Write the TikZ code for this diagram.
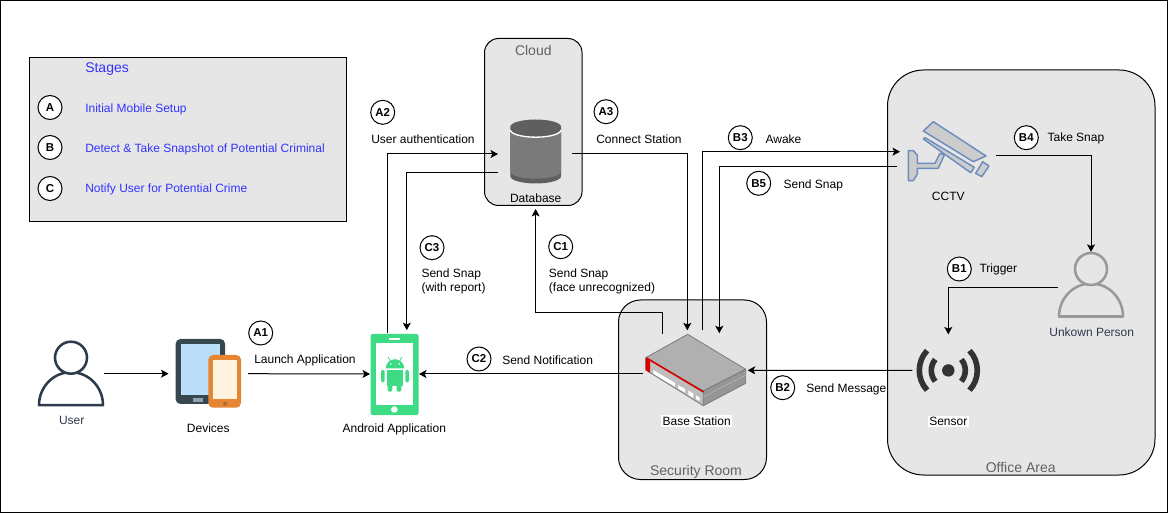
\documentclass[tikz,border=0pt]{standalone}
\usepackage{fontspec}
\setmainfont{Liberation Sans}
\usetikzlibrary{arrows.meta}
\def\pxu{0.75pt}
\definecolor{groupfill}{HTML}{E6E6E6}
\definecolor{stageblue}{HTML}{3333FF}
\definecolor{slate}{HTML}{2C3A4B}
\definecolor{droid}{HTML}{3DDC84}
\definecolor{camblue}{HTML}{6C8EBF}
\tikzset{
        iconbox/.style 2 args = {inner sep=0pt, outer sep=0pt,
            minimum width=#1*\pxu,
            minimum height=#2*\pxu},
        group/.style = {draw, fill=groupfill, line width=0.75pt},
        arrow/.style = {draw, line width=0.75pt, -{Stealth[length=5.6pt,width=6pt,inset=1.3pt]}},
        badge/.style = {draw, circle, fill=white, line width=0.75pt, inner sep=0pt,
            minimum size=24*\pxu, font=\fontsize{8.6}{10}\selectfont\bfseries},
        note/.style = {anchor=west, inner sep=0pt, align=left, yshift=-0.9pt, font=\fontsize{9}{10.6}\selectfont},
        caption/.style = {inner sep=0pt, yshift=-0.9pt, font=\fontsize{9}{10.6}\selectfont},
        title/.style = {inner sep=0pt, yshift=-1.2pt, text=black!62, font=\fontsize{10.5}{12}\selectfont},
    }
% person icon: x, y of the head, colour, fill of the head
\newcommand{\personicon}[4]{
    \draw [#3, line width=1.9pt, line join=round] (#1-32,#2+47.5) arc [start angle=180, end angle=360, x radius=32, y radius=33] -- cycle;
    \draw [#3, fill=#4, line width=1.9pt] (#1,#2) circle [radius=16];
}
\begin{document}
\begin{tikzpicture}[x=0.75pt,y=0.75pt,yscale=-1,xscale=1]
\useasboundingbox (0,0) rectangle (1168,513);
\draw [line width=0.75pt] (0.5,0.5) rectangle (1167,512.5);

%Group boxes
\node [group, iconbox={317}{164}, rounded corners=0pt] (stages) at (188,139.5) {};
\node [group, iconbox={97.5}{167}, rounded corners=10.5pt] (cloud) at (533.25,122) {};
\node [group, iconbox={148}{179.5}, rounded corners=16.5pt] (room) at (692.5,389.75) {};
\node [group, iconbox={267.5}{405}, rounded corners=27pt] (office) at (1021.25,272.5) {};
\node [title] (cloudname) at (533.3,49) {Cloud};
\node [title] (roomname) at (696,470) {Security Room};
\node [title] (officename) at (1020.7,466) {Office Area};

%Stages
\node [note, text=stageblue, font=\fontsize{10.5}{12}\selectfont] (stagetitle) at (85,68) {Stages};
\node [badge] (stagea) at (50,107.5) {A};
\node [badge] (stageb) at (50,147.5) {B};
\node [badge] (stagec) at (50,188.5) {C};
\node [note, text=stageblue] (stageatext) at (85,108) {Initial Mobile Setup};
\node [note, text=stageblue] (stagebtext) at (85,148) {Detect \& Take Snapshot of Potential Criminal};
\node [note, text=stageblue] (stagectext) at (85,188.5) {Notify User for Potential Crime};

%User icon
\personicon{71}{357.7}{slate}{white}
\node [iconbox={66}{66}] (user) at (71,373.7) {};
\node [caption, text=slate] (username) at (71.7,419.3) {User};

%Devices icon
\node [iconbox={79.5}{70}] (devices) at (208.25,373.7) {};
\fill [fill={rgb,255:red,55;green,71;blue,79}, rounded corners=3.5pt] (175.7,339) rectangle (225,404);
\fill [fill={rgb,255:red,187;green,222;blue,251}] (180.7,344) rectangle (220,395);
\fill [fill={rgb,255:red,144;green,164;blue,174}] (193.3,398.3) rectangle (203.3,401.7);
\fill [fill={rgb,255:red,229;green,134;blue,53}, rounded corners=3.5pt] (208.3,355) rectangle (241,407.7);
\fill [fill={rgb,255:red,255;green,243;blue,224}] (213.3,360) rectangle (236.7,399);
\fill [fill={rgb,255:red,178;green,106;blue,42}] (225,403.7) circle [radius=2];
\node [caption] (devicesname) at (208.3,427) {Devices};

%Android icon
\node [iconbox={49}{81}] (android) at (394.5,374) {};
\fill [droid, rounded corners=1.5pt] (370.7,334) rectangle (418.5,415);
\fill [white] (375.7,342.7) rectangle (413.3,405);
\fill [white] (389,337.7) rectangle (400,340);
\fill [white] (394.3,409.5) circle [radius=3.3];
\fill [droid] (385.7,368.5) arc [start angle=180, end angle=360, radius=9.3] -- cycle;
\fill [droid] (386.7,370) rectangle (403.3,386);
\fill [droid, rounded corners=1pt] (387.7,384) rectangle (392.3,391.7);
\fill [droid, rounded corners=1pt] (396.7,384) rectangle (401.3,391.7);
\fill [droid, rounded corners=1pt] (381,370) rectangle (384.7,382.3);
\fill [droid, rounded corners=1pt] (405.3,370) rectangle (408.9,382.3);
\draw [droid, line width=0.6pt] (390,360.5) -- (388,357) (400,360.5) -- (402,357);
\fill [white] (390.8,364) circle [radius=0.9] (399.2,364) circle [radius=0.9];
\node [caption] (androidname) at (394.3,427.7) {Android Application};

%Database icon
\node [iconbox={73.7}{70}] (database) at (534.85,154) {};
\fill [fill={rgb,255:red,95;green,95;blue,95}] (510.4,126.7) arc [start angle=180, end angle=540, x radius=25.3, y radius=7.2];
\fill [fill={rgb,255:red,95;green,95;blue,95}] (510.4,126.7) -- (510.4,176.3) arc [start angle=180, end angle=0, x radius=25.3, y radius=7.2] -- (561,126.7) -- cycle;
\fill [fill={rgb,255:red,122;green,122;blue,122}] (510.4,130) arc [start angle=180, end angle=0, x radius=25.3, y radius=7.2] -- (561,171.5) arc [start angle=0, end angle=180, x radius=25.3, y radius=7.2] -- cycle;
\draw [white, line width=1pt] (510.4,130) arc [start angle=180, end angle=0, x radius=25.3, y radius=7.2];
\node [caption] (databasename) at (535.7,196.7) {Database};

%Base station icon
\node [iconbox={104.4}{80}] (base) at (695.5,370.3) {};
\draw [fill={rgb,255:red,176;green,176;blue,176}, draw={rgb,255:red,122;green,122;blue,122}, line width=0.6pt, line join=round] (645.7,357.7) -- (687.7,334.3) -- (745.7,369.3) -- (703.3,391) -- cycle;
\draw [fill={rgb,255:red,150;green,150;blue,150}, draw={rgb,255:red,122;green,122;blue,122}, line width=0.6pt, line join=round] (703.3,391) -- (745.7,369.3) -- (745.7,383.3) -- (703.3,405.7) -- cycle;
\draw [fill={rgb,255:red,190;green,190;blue,190}, draw={rgb,255:red,122;green,122;blue,122}, line width=0.6pt, line join=round] (645.7,357.7) -- (703.3,391) -- (703.3,405.7) -- (645.7,370) -- cycle;
\draw [red!85!black, line width=1.2pt] (646.5,358) -- (703.5,392);
\fill [red!85!black] (645.7,357.7) -- (650,360.2) -- (650,372.7) -- (645.7,370) -- cycle;
\fill [white] (653.3,370) -- (675,383) -- (675,386.7) -- (653.3,373.7) -- cycle;
\fill [white] (678,385) -- (685,389) -- (685,392.5) -- (678,388.5) -- cycle;
\fill [white] (688.3,390.5) -- (693.3,393.5) -- (693.3,398) -- (688.3,395) -- cycle;
\fill [white] (696,395.5) -- (699.5,397.5) -- (699.5,401) -- (696,399) -- cycle;
\draw [white!75!black, line width=0.3pt] (703.3,397) -- (745.7,375);
\node [caption, fill=white, inner sep=1pt] (basename) at (696.7,420) {Base Station};

%Sensor icon
\node [iconbox={72}{72}] (sensor) at (948.3,370.4) {};
\fill [black!80] (948.3,370.4) circle [radius=6.2];
\foreach \mid in {0,180}{
    \draw [black!80, line width=4.2pt] ([shift={(\mid-40:17)}]948.3,370.4) arc [start angle=\mid-40, end angle=\mid+40, radius=17];
    \draw [black!80, line width=4.2pt] ([shift={(\mid-43:29)}]948.3,370.4) arc [start angle=\mid-43, end angle=\mid+43, radius=29];
}
\node [caption, fill=white, inner sep=1pt] (sensorname) at (948.3,420) {Sensor};

%Unknown person icon
\personicon{1091}{269}{black!40}{groupfill}
\node [iconbox={65.4}{71}] (unknown) at (1091,287.3) {};
\node [caption, text=slate] (unknownname) at (1091.7,330.7) {Unkown Person};

%CCTV icon
\node [iconbox={99.3}{60}] (cctv) at (946.3,155.3) {};
\begin{scope}[draw=camblue, line width=1.1pt, line join=round]
\draw [fill={rgb,255:red,204;green,204;blue,204}] (923.3,131) -- (933.3,121.7) -- (986,156) -- (973.3,161.7) -- cycle;
\draw [fill={rgb,255:red,204;green,204;blue,204}] (923.3,139) -- (925,137.7) -- (974.3,167.3) -- (970.7,172.7) -- cycle;
\draw [fill={rgb,255:red,204;green,204;blue,204}] (982.7,161.7) -- (989,166) -- (981.7,176.7) -- (975.7,173.3) -- cycle;
\draw [fill={rgb,255:red,204;green,204;blue,204}] (908.3,150.7) -- (913.3,150.7) -- (917.3,155) -- (917.3,163.3) -- (935,163.3) -- (940,153.3) -- (944.3,155) -- (938.3,168.3) -- (917.3,168.3) -- (917.3,174) -- (913.3,180.7) -- (908.3,180.7) -- cycle;
\end{scope}
\node [caption] (cctvname) at (948.3,194.7) {CCTV};

%Straight Lines
\draw [arrow] (user.east) -- (devices.west);
\draw [arrow] (devices.east) -- (android.west);
\draw [arrow] ([xshift=-4.9pt]android.north) |- (database.west);
\draw [arrow] ([yshift=14pt]database.west) -| ([shift={(9.2pt,-2.5pt)}]android.north);
\draw [arrow] (database.east) -| ([xshift=-6.15pt]base.north);
\draw [arrow] ([shift={(-24.6pt,2.8pt)}]base.north) -- ++(0,-21.3) -| ([shift={(1.8pt,2.6pt)}]cloud.south);
\draw [arrow] ([xshift=5.4pt]base.north) |- ([shift={(2.5pt,-2.7pt)}]cctv.west);
\draw [arrow] ([yshift=8.5pt]cctv.west) -| ([shift={(17.85pt,2.2pt)}]base.north);
\draw [arrow] (cctv.east) -| (unknown.north);
\draw [arrow] (unknown.west) -| (sensor.north);
\draw [arrow] (sensor.west) -- (base.east);
\draw [arrow] (android.east -| base.west) -- (android.east);

% Badges
\node [badge] (a1) at (260.7,333) {A1};
\node [badge] (a2) at (382.7,112.3) {A2};
\node [badge] (a3) at (606,111.7) {A3};
\node [badge] (c1) at (560.7,246.7) {C1};
\node [badge] (c2) at (479,359) {C2};
\node [badge] (c3) at (432,247.7) {C3};
\node [badge] (b1) at (959.3,269) {B1};
\node [badge] (b2) at (782.7,387.7) {B2};
\node [badge] (b3) at (740.3,137.7) {B3};
\node [badge] (b4) at (1026.3,137.7) {B4};
\node [badge] (b5) at (758.7,183.3) {B5};

% Text Node
\node [note] (a1text) at (254,358.7) {Launch Application};
\node [note] (a2text) at (371,137.7) {User authentication};
\node [note] (a3text) at (596,138.5) {Connect Station};
\node [note] (c1text) at (548.7,280.5) {Send Snap\\(face unrecognized)};
\node [note] (c2text) at (502,359) {Send Notification};
\node [note] (c3text) at (421.3,280) {Send Snap\\(with report)};
\node [note] (b1text) at (979.3,268) {Trigger};
\node [note] (b2text) at (806,387.7) {Send Message};
\node [note] (b3text) at (765.3,138) {Awake};
\node [note] (b4text) at (1047.3,137.7) {Take Snap};
\node [note] (b5text) at (783.3,184) {Send Snap};

\end{tikzpicture}
\end{document}
